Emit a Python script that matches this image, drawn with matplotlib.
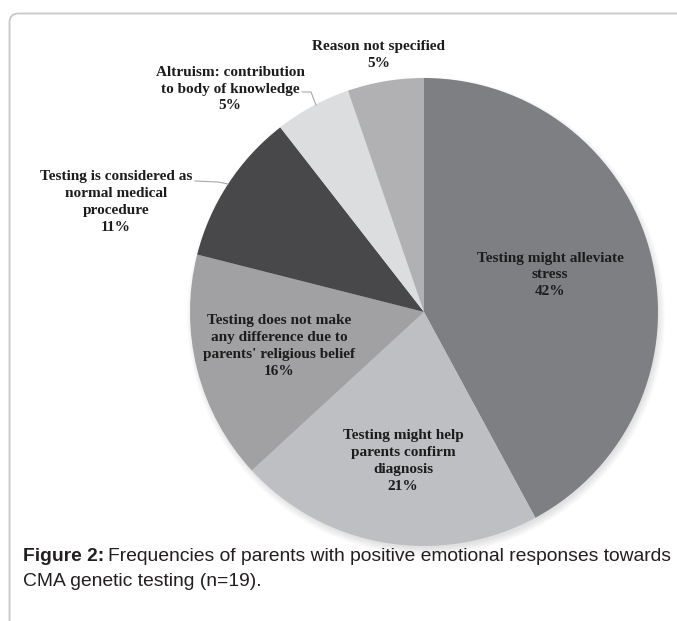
import matplotlib.pyplot as plt
from matplotlib.patches import Circle, FancyBboxPatch

W, H = 677, 621

# counts of parents per reason (n=19)
reasons = ['Testing might alleviate\nstress',
           'Testing might help\nparents confirm\ndiagnosis',
           "Testing does not make\nany difference due to\nparents' religious belief",
           'Testing is considered as\nnormal medical\nprocedure',
           'Altruism: contribution\nto body of knowledge',
           'Reason not specified']
counts = [8, 4, 3, 2, 1, 1]
colors = ['#7e7f83', '#bebfc3', '#a1a1a3', '#48484b', '#dcdddf', '#b1b1b4']

# where each label sits (pixels from top-left)
label_xy = [(550, 275), (403, 461), (279, 346), (116, 202), (230, 89), (379, 55)]

cx, cy, r = 424, H - 312, 234

fig = plt.figure(figsize=(W / 100, H / 100), dpi=100)
ax = fig.add_axes([0, 0, 1, 1])

# frame around the figure
frame = FancyBboxPatch((9.5, -20), W + 20, H - 12 + 20 - 1.5,
                       boxstyle='round,pad=0,rounding_size=9',
                       fc='white', ec='#c8c8c8', lw=1.3)
ax.add_patch(frame)

# soft shadow under the pie, falling down and to the right
for k in range(10):
    ax.add_patch(Circle((cx + 2, cy - 4), r - 2 + k * 0.8,
                        color='#000000', alpha=0.012, lw=0))

total = sum(counts)
ax.pie(counts, colors=colors, startangle=90, counterclock=False,
       center=(cx, cy), radius=r, frame=True,
       wedgeprops=dict(linewidth=0))
ax.set_xlim(0, W)
ax.set_ylim(0, H)
ax.set_aspect('equal')
ax.axis('off')

font = dict(family='Liberation Serif', weight='bold', size=11,
            color='#1c1c1c', ha='center', va='center', linespacing=1.38)
for name, n, (x, y) in zip(reasons, counts, label_xy):
    pct = round(100 * n / total)
    ax.text(x, H - y, f'{name}\n{pct}%', **font)

# leader lines for the two outside labels
ax.plot([302, 311, 316], [H - 92, H - 92, H - 105], color='#a8a8a8', lw=0.8)
ax.plot([195, 218, 228], [H - 181, H - 182, H - 184], color='#a8a8a8', lw=0.8)

# caption
cap = dict(family='Liberation Sans', size=13.85, color='#231f20', va='baseline')
t = ax.text(23, H - 561, 'Figure 2:', weight='bold', **cap)
fig.canvas.draw()
bb = t.get_window_extent()
ax.text(23 + bb.width + 4, H - 561,
        'Frequencies of parents with positive emotional responses towards', **cap)
ax.text(23, H - 586, 'CMA genetic testing (n=19).', **cap)

fig.savefig('out.png', dpi=100)
